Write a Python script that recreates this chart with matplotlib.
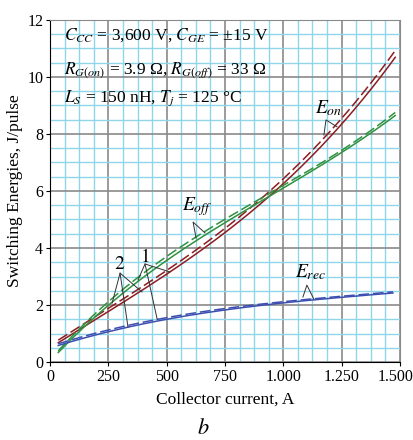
import numpy as np
import matplotlib
matplotlib.use('Agg')
import matplotlib.pyplot as plt
import matplotlib.transforms as mtrans
from matplotlib.ticker import MultipleLocator, FixedLocator

plt.rcParams['font.family'] = ['Liberation Serif', 'DejaVu Serif']
plt.rcParams['mathtext.fontset'] = 'stix'

# values
i_on = [35, 100, 250, 500, 750, 934, 1000, 1250, 1480]
eon_solid = [0.73, 1.0, 1.70, 3.09, 4.52, 5.79, 6.45, 8.10, 10.77]
eon_dash = [0.81, 1.1, 1.82, 3.23, 4.70, 5.85, 6.63, 8.38, 10.98]

i_off = [35, 100, 250, 500, 750, 934, 1000, 1250, 1480]
eoff_solid = [0.40, 0.85, 1.88, 3.65, 4.90, 5.79, 6.10, 7.30, 8.67]
eoff_dash = [0.45, 0.95, 1.98, 3.82, 5.02, 5.85, 6.20, 7.40, 8.77]

i_rec = [35, 100, 250, 500, 750, 1000, 1250, 1470]
erec_solid = [0.58, 0.75, 1.05, 1.52, 1.82, 2.07, 2.28, 2.42]
erec_dash = [0.64, 0.81, 1.11, 1.58, 1.87, 2.11, 2.32, 2.46]

xticks = [0, 250, 500, 750, 1000, 1250, 1500]
xlabels = ['0', '250', '500', '750', '1.000', '1.250', '1.500']
yticks = [0, 2, 4, 6, 8, 10, 12]

red = '#8e1c20'
green = '#2f9140'
blue = '#3c4fb0'


def smooth(x, y):
    xs = np.linspace(x[0], x[-1], 200)
    c = np.polyfit(x, y, 3)
    return xs, np.polyval(c, xs)


fig = plt.figure(figsize=(4.14, 4.40), dpi=100)
ax = fig.add_axes([0.121, 0.177, 0.845, 0.778])

ax.set_xlim(0, 1500)
ax.set_ylim(0, 12)
ax.xaxis.set_major_locator(FixedLocator(xticks))
ax.set_xticklabels(xlabels)
ax.yaxis.set_major_locator(FixedLocator(yticks))
ax.xaxis.set_minor_locator(MultipleLocator(62.5))
ax.yaxis.set_minor_locator(MultipleLocator(0.5))
ax.grid(which='minor', color='#8fd6ea', lw=1.0, zorder=0)
ax.grid(which='major', color='#8a8a8a', lw=1.2, zorder=0)
ax.tick_params(which='minor', length=0)
ax.tick_params(which='major', direction='out', length=3, labelsize=11.5, pad=2)
for s in ['top', 'right']:
    ax.spines[s].set_color('#8a8a8a')
for s in ['left', 'bottom']:
    ax.spines[s].set_color('black')

# last x label sits against the right edge, pull it in a little
last = ax.get_xticklabels()[-1]
last.set_transform(last.get_transform() + mtrans.ScaledTranslation(-3 / 72, 0, fig.dpi_scale_trans))

for x, ys, yd, col in [(i_on, eon_solid, eon_dash, red),
                       (i_off, eoff_solid, eoff_dash, green),
                       (i_rec, erec_solid, erec_dash, blue)]:
    xs, ss = smooth(x, ys)
    ax.plot(xs, ss, color=col, lw=1.1, zorder=3)
    xs, dd = smooth(x, yd)
    ax.plot(xs, dd, color=col, lw=1.1, ls=(0, (7, 2.5)), zorder=3)

ax.set_xlabel('Collector current, A', fontsize=12.5, labelpad=5)
ax.set_ylabel('Switching Energies, J/pulse', fontsize=12.5, labelpad=3)

tk = dict(fontsize=12.5, zorder=5)
ax.text(60, 11.3, r'$C_{CC}$ = 3,600 V, $C_{GE}$ = ±15 V', **tk)
ax.text(60, 10.1, r'$R_{G(on)}$ = 3.9 Ω, $R_{G(off)}$ = 33 Ω', **tk)
ax.text(60, 9.15, r'$L_S$ = 150 nH, $T_j$ = 125 °C', **tk)

lab = dict(fontsize=14, zorder=5)
ax.text(1136, 8.72, r'$E_{on}$', **lab)
ax.text(566, 5.33, r'$E_{off}$', **lab)
ax.text(1050, 2.98, r'$E_{rec}$', **lab)
ax.text(300, 3.25, r'$2$', ha='center', **lab)
ax.text(405, 3.5, r'$1$', ha='center', **lab)

lk = dict(color='#333333', lw=0.7, zorder=4)
ax.plot([1174, 1183, 1230], [7.96, 8.49, 8.25], **lk)
ax.plot([626, 613, 664], [4.35, 4.91, 4.53], **lk)
ax.plot([1084, 1101, 1131], [2.28, 2.70, 2.21], **lk)
ax.plot([266, 300, 394], [2.07, 3.12, 2.46], **lk)
ax.plot([300, 334], [3.12, 1.23], **lk)
ax.plot([377, 407, 514], [2.88, 3.44, 3.16], **lk)
ax.plot([407, 459], [3.44, 1.51], **lk)

fig.text(0.49, 0.014, r'$b$', fontsize=16, ha='center')

fig.savefig('out.png', dpi=100)
